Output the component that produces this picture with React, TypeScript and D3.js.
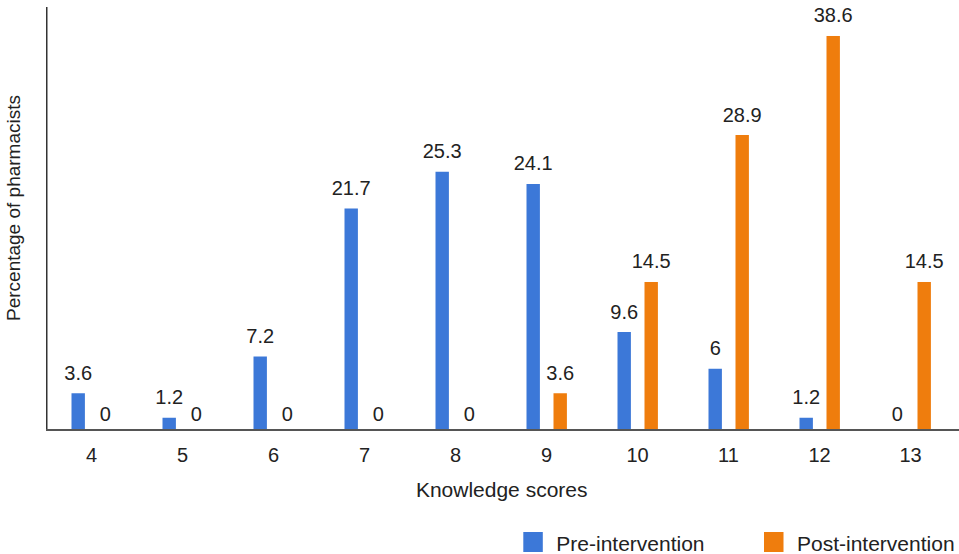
import React from "react";
import * as d3 from "d3";

const categories = ["4", "5", "6", "7", "8", "9", "10", "11", "12", "13"];
const preValues = [3.6, 1.2, 7.2, 21.7, 25.3, 24.1, 9.6, 6, 1.2, 0];
const postValues = [0, 0, 0, 0, 0, 3.6, 14.5, 28.9, 38.6, 14.5];
const seriesNames = ["Pre-intervention", "Post-intervention"];
const colors = ["#3c78d8", "#ef7d0d"];
const xTitle = "Knowledge scores";
const yTitle = "Percentage of pharmacists";

const W = 959;
const H = 554;
const left = 46;
const right = 956;
const top = 7;
const bottom = 430;
const font = "'Liberation Sans', Arial, sans-serif";

export default function App() {
  const x = d3.scaleBand<string>().domain(categories).range([left, right]).padding(0);
  const y = d3.scaleLinear().domain([0, 41.44]).range([bottom, top]);
  const barW = 13.4;
  const offsets = [-20, 7];
  const series = [preValues, postValues];
  const fmt = (v: number) => String(v);

  return (
    <svg width={W} height={H} style={{ position: "absolute", left: 0, top: 0, background: "#fff" }} fontFamily={font}>
      {series.map((vals, si) =>
        vals.map((v, i) => {
          const cx = (x(categories[i]) as number) + x.bandwidth() / 2;
          const bx = cx + offsets[si];
          return (
            <g key={`${si}-${i}`}>
              {v > 0 && (
                <rect x={bx} y={y(v)} width={barW} height={y(0) - y(v)} fill={colors[si]} />
              )}
              <text
                x={bx + barW / 2}
                y={v > 0 ? y(v) - 13.5 : bottom - 9.5}
                textAnchor="middle"
                fontSize={20}
                fill="#222"
              >
                {fmt(v)}
              </text>
            </g>
          );
        })
      )}
      <line x1={left + 0.75} x2={left + 0.75} y1={top} y2={bottom} stroke="#333" strokeWidth={1.5} />
      <line x1={left} x2={W} y1={bottom} y2={bottom} stroke="#555" strokeWidth={2} />
      {categories.map((c) => (
        <text
          key={c}
          x={(x(c) as number) + x.bandwidth() / 2}
          y={461.5}
          textAnchor="middle"
          fontSize={20}
          fill="#222"
        >
          {c}
        </text>
      ))}
      <text x={501.7} y={497.3} textAnchor="middle" fontSize={21} fill="#222">
        {xTitle}
      </text>
      <text
        transform={`translate(20,208) rotate(-90)`}
        textAnchor="middle"
        fontSize={19}
        fill="#222"
      >
        {yTitle}
      </text>
      {seriesNames.map((name, i) => {
        const lx = [523.3, 764][i];
        return (
          <g key={name}>
            <rect x={lx} y={532} width={19.5} height={20} fill={colors[i]} />
            <text x={lx + 33} y={550.5} fontSize={21} fill="#222">
              {name}
            </text>
          </g>
        );
      })}
    </svg>
  );
}
